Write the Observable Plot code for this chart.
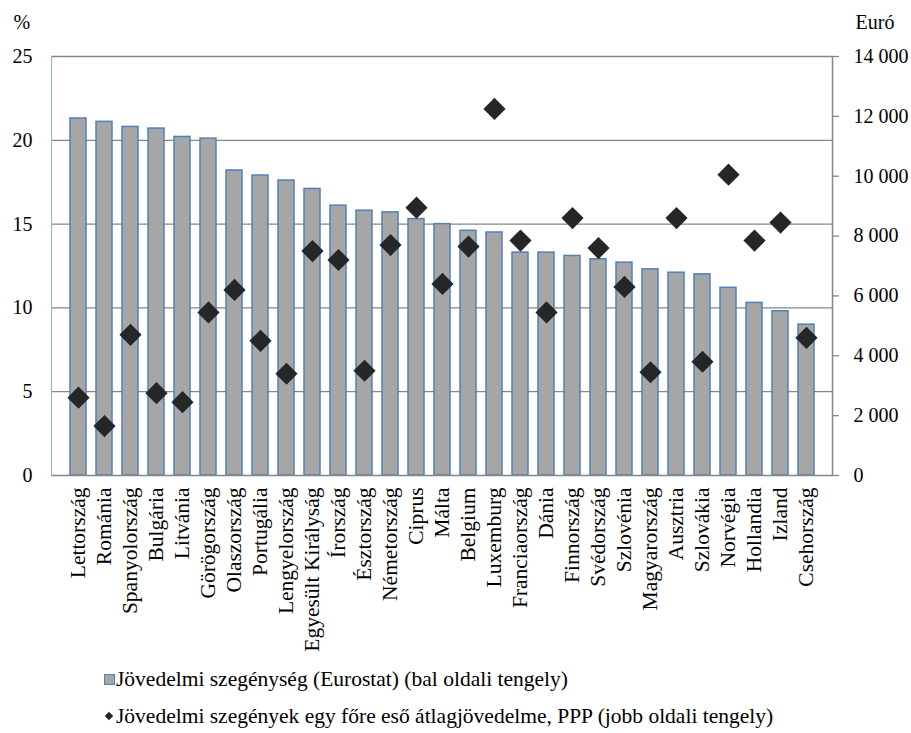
<!DOCTYPE html>
<html><head><meta charset="utf-8">
<script src="https://cdn.jsdelivr.net/npm/d3@7"></script>
<script src="https://cdn.jsdelivr.net/npm/@observablehq/plot@0.6"></script>
<style>
body{margin:0;background:#fff;font-family:"Liberation Serif","Times New Roman",serif;}
#wrap{position:relative;width:911px;height:733px;overflow:hidden;}
.leg{position:absolute;font-size:21.5px;line-height:24px;white-space:nowrap;color:#000;}
.sq{position:absolute;width:9px;height:9px;background:#a6a6a6;border:1px solid #4f81bd;}
.dm{position:absolute;width:6px;height:6px;background:#262626;transform:rotate(45deg);}
</style></head><body><div id="wrap"><div id="chart"></div>
<div class="sq" style="left:104px;top:674px"></div>
<div class="leg" style="left:116px;top:667px">Jövedelmi szegénység (Eurostat) (bal oldali tengely)</div>
<div class="dm" style="left:106px;top:713px"></div>
<div class="leg" style="left:116px;top:704px">Jövedelmi szegények egy főre eső átlagjövedelme, PPP (jobb oldali tengely)</div>
</div>
<script>
const countries = ["Lettország","Románia","Spanyolország","Bulgária","Litvánia","Görögország","Olaszország","Portugália","Lengyelország","Egyesült Királyság","Írország","Észtország","Németország","Ciprus","Málta","Belgium","Luxemburg","Franciaország","Dánia","Finnország","Svédország","Szlovénia","Magyarország","Ausztria","Szlovákia","Norvégia","Hollandia","Izland","Csehország"];
const povertyRate = [21.3,21.1,20.8,20.7,20.2,20.1,18.2,17.9,17.6,17.1,16.1,15.8,15.7,15.3,15.0,14.6,14.5,13.3,13.3,13.1,12.9,12.7,12.3,12.1,12.0,11.2,10.3,9.8,9.0];
const incomePPP = [2600,1650,4700,2750,2450,5450,6200,4500,3400,7500,7200,3500,7700,8950,6400,7650,12250,7850,5450,8600,7600,6300,3450,8600,3800,10050,7850,8450,4600];
const leftTicks = [0,5,10,15,20,25];
const rightTicks = [0,2000,4000,6000,8000,10000,12000,14000];
const leftLabel = "%";
const rightLabel = "Euró";

const leftMax = leftTicks[leftTicks.length-1], rightMax = rightTicks[rightTicks.length-1];
const toLeft = v => v * leftMax / rightMax;
const data = countries.map((c,i)=>({country:c, rate:povertyRate[i], income:incomePPP[i]}));
const fmt = d3.formatLocale({thousands:"\u00a0", grouping:[3], decimal:","}).format(",d");

const chart = Plot.plot({
  width:911, height:660, marginTop:56, marginBottom:185, marginLeft:51, marginRight:79,
  style:{fontFamily:"Liberation Serif, Times New Roman, serif", fontSize:"20px", color:"#000", background:"#fff", overflow:"visible"},
  x:{domain:countries, paddingInner:0.4, paddingOuter:0.2},
  y:{domain:[0,leftMax]},
  marks:[
    Plot.ruleY(leftTicks.filter(d=>d>0), {stroke:"#868686", strokeWidth:1.3}),
    Plot.barY(data,{x:"country", y:"rate", fill:"#a6a6a6", stroke:"#4f81bd", strokeWidth:1.5}),
    Plot.ruleY([0], {stroke:"#868686", strokeWidth:1.5}),
    Plot.frame({anchor:"left", stroke:"#95b3d7", strokeWidth:1}),
    Plot.frame({anchor:"right", stroke:"#868686", strokeWidth:1.5}),
    Plot.dot(data,{x:"country", y:d=>toLeft(d.income), symbol:"diamond2", r:10, fill:"#262626", stroke:"none"}),
    Plot.axisY(leftTicks,{anchor:"left", tickSize:0, tickPadding:19, label:null, fill:"#000", fontSize:20}),
    Plot.axisY(rightTicks.map(toLeft),{anchor:"right", tickSize:6, tickPadding:15, stroke:"#868686", strokeWidth:1.3, fill:"#000", fontSize:20, tickFormat:d=>fmt(Math.round(d*rightMax/leftMax)), label:null}),
    Plot.axisX({tickSize:0, tickRotate:-90, tickPadding:12, label:null, fill:"#000", fontSize:21.5}),
    Plot.text([leftLabel],{frameAnchor:"top-left", dx:-38, dy:-34, textAnchor:"start", lineAnchor:"middle", fill:"#000", fontSize:20}),
    Plot.text([rightLabel],{frameAnchor:"top-right", dx:23, dy:-34, textAnchor:"start", lineAnchor:"middle", fill:"#000", fontSize:20})
  ]
});
document.getElementById("chart").appendChild(chart);
</script></body></html>
